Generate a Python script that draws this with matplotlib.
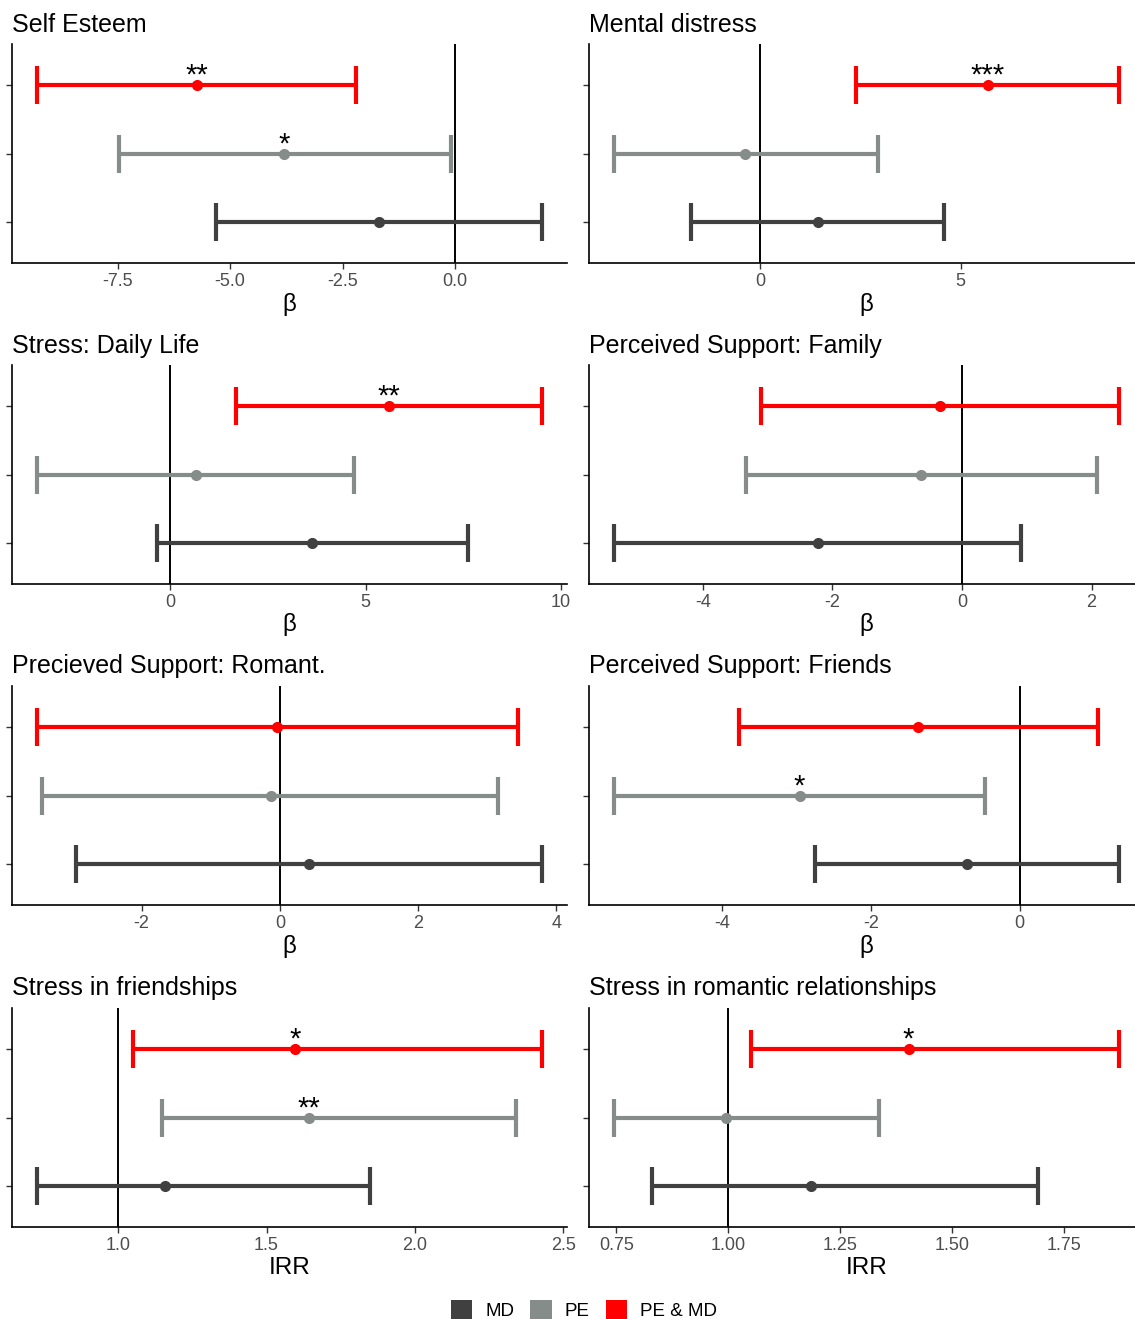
import matplotlib
matplotlib.use('Agg')
import matplotlib.pyplot as plt
from matplotlib.patches import Patch
import numpy as np

plt.rcParams['font.family'] = ['Liberation Sans', 'DejaVu Sans']

titles = ['Self Esteem', 'Mental distress', 'Stress: Daily Life', 'Perceived Support: Family',
          'Precieved Support: Romant.', 'Perceived Support: Friends',
          'Stress in friendships', 'Stress in romantic relationships']
xlabels = ['\u03b2'] * 6 + ['IRR', 'IRR']
ref_line = [0, 0, 0, 0, 0, 0, 1, 1]

groups = ['MD', 'PE', 'PE & MD']
colors = ['#404040', '#858c8a', '#ff0000']

# estimates and confidence limits, one value per panel
md_est = [-1.69, 1.43, 3.63, -2.22, 0.42, -0.71, 1.158, 1.184]
md_lo = [-5.31, -1.73, -0.33, -5.37, -2.95, -2.75, 0.727, 0.830]
md_hi = [1.93, 4.58, 7.62, 0.91, 3.79, 1.33, 1.848, 1.692]
pe_est = [-3.80, -0.375, 0.66, -0.63, -0.13, -2.96, 1.643, 0.996]
pe_lo = [-7.47, -3.65, -3.40, -3.34, -3.44, -5.45, 1.148, 0.745]
pe_hi = [-0.09, 2.93, 4.70, 2.08, 3.16, -0.47, 2.340, 1.337]
pemd_est = [-5.73, 5.68, 5.60, -0.34, -0.04, -1.37, 1.596, 1.403]
pemd_lo = [-9.29, 2.40, 1.69, -3.10, -3.51, -3.78, 1.050, 1.051]
pemd_hi = [-2.20, 8.95, 9.51, 2.42, 3.44, 1.05, 2.428, 1.873]

md_sig = ['', '', '', '', '', '', '', '']
pe_sig = ['*', '', '', '', '', '*', '**', '']
pemd_sig = ['**', '***', '**', '', '', '', '*', '*']

ticks = [[-7.5, -5.0, -2.5, 0.0], [0, 5], [0, 5, 10], [-4, -2, 0, 2],
         [-2, 0, 2, 4], [-4, -2, 0], [1.0, 1.5, 2.0, 2.5], [0.75, 1.00, 1.25, 1.50, 1.75]]
tick_labels = [['-7.5', '-5.0', '-2.5', '0.0'], ['0', '5'], ['0', '5', '10'], ['-4', '-2', '0', '2'],
               ['-2', '0', '2', '4'], ['-4', '-2', '0'], ['1.0', '1.5', '2.0', '2.5'],
               ['0.75', '1.00', '1.25', '1.50', '1.75']]

W, H = 1135, 1319
fig = plt.figure(figsize=(W / 100, H / 100), dpi=100)

# right column runs past the image edge, as in the original
col_x = [(12, 567), (589, 1144)]
row_top = [44, 365, 686, 1008]
ax_h = 219

for i in range(8):
    r, c = divmod(i, 2)
    x0, x1 = col_x[c]
    ax = fig.add_axes([x0 / W, 1 - (row_top[r] + ax_h) / H, (x1 - x0) / W, ax_h / H])

    est = [md_est[i], pe_est[i], pemd_est[i]]
    lo = [md_lo[i], pe_lo[i], pemd_lo[i]]
    hi = [md_hi[i], pe_hi[i], pemd_hi[i]]
    sig = [md_sig[i], pe_sig[i], pemd_sig[i]]

    ax.axvline(ref_line[i], color='black', lw=1.4, zorder=1)
    for k in range(3):
        y = k + 1
        ax.errorbar(est[k], y, xerr=[[est[k] - lo[k]], [hi[k] - est[k]]], fmt='o',
                    color=colors[k], ms=7, elinewidth=3, capsize=14, capthick=3, zorder=3)
        if sig[k]:
            ax.annotate(sig[k], (est[k], y), xytext=(0, 1), textcoords='offset points',
                        ha='center', va='baseline', fontsize=21, color='black')

    lo_all, hi_all = min(lo), max(hi)
    pad = 0.05 * (hi_all - lo_all)
    ax.set_xlim(lo_all - pad, hi_all + pad)
    ax.set_ylim(0.4, 3.6)
    ax.set_yticks([1, 2, 3])
    ax.set_yticklabels([])
    ax.set_xticks(ticks[i])
    ax.set_xticklabels(tick_labels[i])
    ax.tick_params(axis='both', length=4, width=1, color='#333333', labelcolor='#4d4d4d',
                   labelsize=13, pad=3)
    for s in ['top', 'right']:
        ax.spines[s].set_visible(False)
    for s in ['left', 'bottom']:
        ax.spines[s].set_linewidth(1.2)
        ax.spines[s].set_color('black')
    ax.set_xlabel(xlabels[i], fontsize=17.5, labelpad=2)
    ax.set_title(titles[i], loc='left', fontsize=18, pad=9)

handles = [Patch(facecolor=colors[k], edgecolor='none', label=groups[k]) for k in range(3)]
fig.legend(handles=handles, loc='center', bbox_to_anchor=(584 / W, 1 - 1310 / H), ncol=3,
           frameon=False, fontsize=13.5, handlelength=1.15, handleheight=1.15,
           handletextpad=0.7, columnspacing=0.85)

fig.savefig('out.png', dpi=100)
